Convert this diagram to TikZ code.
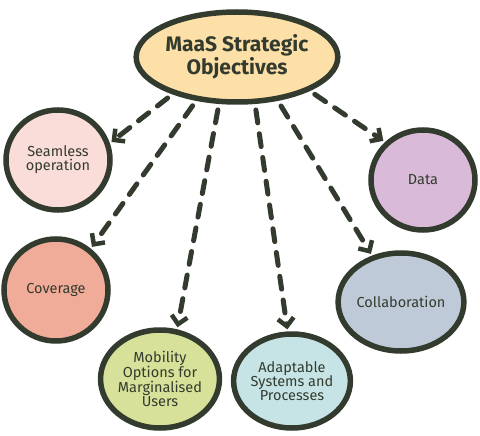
\documentclass[tikz,border=0pt]{standalone}
\usepackage{fontspec}
\setmainfont{Fira Sans}
\usetikzlibrary{shapes.geometric,arrows.meta}
\definecolor{ink}{HTML}{333B2E}
\definecolor{cmain}{HTML}{FDDFA8}
\definecolor{cseam}{HTML}{FADCD9}
\definecolor{ccov}{HTML}{F0AC98}
\definecolor{cmob}{HTML}{D7E199}
\definecolor{cadapt}{HTML}{C6E4E6}
\definecolor{ccoll}{HTML}{BFCAD9}
\definecolor{cdata}{HTML}{D9BAD8}
\tikzset{
  blob/.style={ellipse, draw=ink, line width=5.5pt, inner sep=0pt, align=center,
    text=ink, font=\fontsize{14.5}{14}\selectfont},
  link/.style={draw=ink, line width=5pt, line cap=round, dash pattern=on 13pt off 11pt,
    -{Straight Barb[length=8pt,width=16pt,line width=4.5pt]}, shorten <=6pt, shorten >=2pt}
}
\begin{document}
\begin{tikzpicture}[x=1pt,y=-1pt]
\useasboundingbox (0,0) rectangle (480,436);
\node[blob, fill=cmain, minimum width=190pt, minimum height=90pt,
  font=\fontsize{21}{19}\selectfont\bfseries] (main) at (237,57) {MaaS Strategic\\Objectives};
\node[blob, fill=cseam, minimum width=104pt, minimum height=100pt] (seam) at (58,160) {Seamless\\operation};
\node[blob, fill=ccov, minimum width=104pt, minimum height=102pt] (cov) at (56,290) {Coverage};
\node[blob, fill=cmob, minimum width=112pt, minimum height=98pt] (mob) at (160,379) {Mobility\\Options for\\Marginalised\\Users};
\node[blob, fill=cadapt, minimum width=100pt, minimum height=94pt] (adapt) at (292,381) {Adaptable\\Systems and\\Processes};
\node[blob, fill=ccoll, minimum width=110pt, minimum height=98pt] (coll) at (401,302) {Collaboration};
\node[blob, fill=cdata, minimum width=104pt, minimum height=100pt] (data) at (423,180) {Data};
\draw[link] (main.210) -- (seam.18);
\draw[link] (main.227) -- (cov.50);
\draw[link] (main.249) -- (mob.71);
\draw[link] (main.291) -- (adapt.95);
\draw[link] (main.313) -- (coll.122);
\draw[link] (main.335) -- (data.135);
\end{tikzpicture}
\end{document}
